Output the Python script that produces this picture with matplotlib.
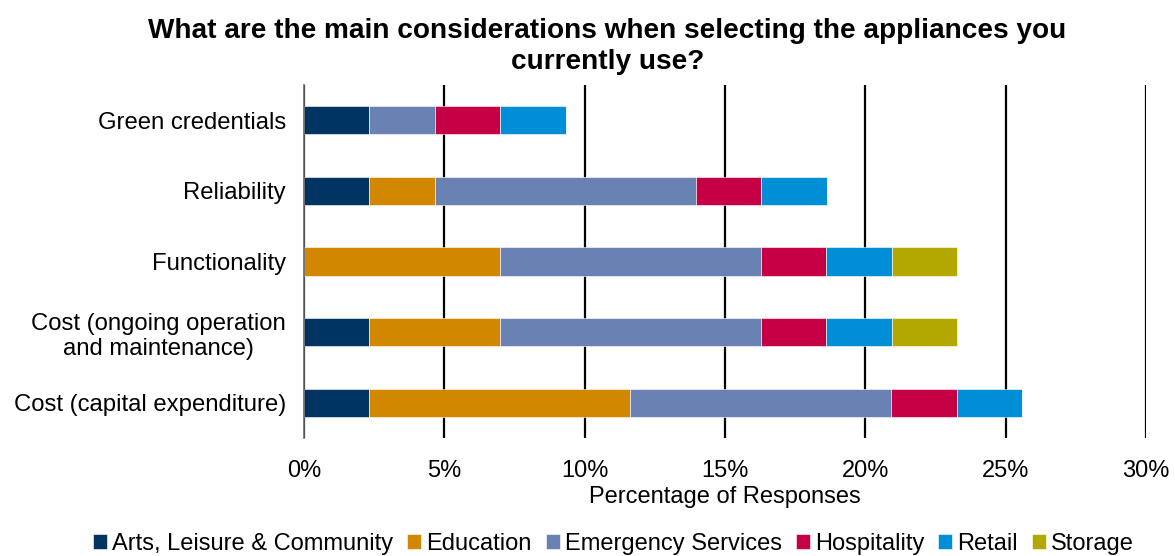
import matplotlib.pyplot as plt
import numpy as np

plt.rcParams['font.family'] = ['Liberation Sans', 'DejaVu Sans']

categories = ['Cost (capital expenditure)', 'Cost (ongoing operation\nand maintenance)',
              'Functionality', 'Reliability', 'Green credentials']
sectors = ['Arts, Leisure & Community', 'Education', 'Emergency Services',
           'Hospitality', 'Retail', 'Storage']
colors = ['#003462', '#d18800', '#6a82b3', '#c50045', '#008fd6', '#b3a800']

# % of responses per sector, rows follow categories (bottom to top)
arts = [2.33, 2.33, 0.0, 2.33, 2.33]
education = [9.30, 4.65, 6.98, 2.33, 0.0]
emergency = [9.30, 9.30, 9.30, 9.30, 2.33]
hospitality = [2.33, 2.33, 2.33, 2.33, 2.33]
retail = [2.33, 2.33, 2.33, 2.33, 2.33]
storage = [0.0, 2.33, 2.33, 0.0, 0.0]
series = [arts, education, emergency, hospitality, retail, storage]

fig = plt.figure(figsize=(11.75, 5.56), dpi=100)
ax = fig.add_axes([0.2587, 0.2122, 0.7166, 0.6348])

y = np.arange(len(categories))
left = np.zeros(len(categories))
for name, vals, c in zip(sectors, series, colors):
    ax.barh(y, vals, left=left, height=0.4, color=c, label=name,
            edgecolor='white', linewidth=0.4, zorder=3)
    left += np.array(vals)

ax.set_xlim(0, 30)
ax.set_ylim(-0.5, 4.5)
ax.set_xticks(range(0, 31, 5))
ax.set_xticklabels([f'{v}%' for v in range(0, 31, 5)])
ax.set_yticks(y)
ax.set_yticklabels(categories, fontsize=17.2)
ax.tick_params(axis='x', labelsize=17, length=0, pad=16)
ax.tick_params(axis='y', length=0, pad=13)
for lbl in ax.get_yticklabels():
    lbl.set_multialignment('center')

ax.grid(axis='x', color='black', linewidth=1.6, zorder=0)
for s in ['top', 'right', 'bottom']:
    ax.spines[s].set_visible(False)
ax.spines['left'].set_color('#666666')
ax.spines['left'].set_linewidth(1.2)
ax.spines['left'].set_zorder(4)

ax.set_xlabel('Percentage of Responses', fontsize=17, labelpad=3)
fig.suptitle('What are the main considerations when selecting the appliances you\ncurrently use?',
             x=0.517, y=0.968, fontsize=20.2, fontweight='bold', linespacing=1.28)

fig.legend(loc='center', bbox_to_anchor=(0.522, 0.022), ncol=6, frameon=False,
           fontsize=17, handlelength=0.6, handleheight=0.6, handletextpad=0.2,
           columnspacing=0.6, borderaxespad=0)

fig.savefig('out.png', dpi=100)
